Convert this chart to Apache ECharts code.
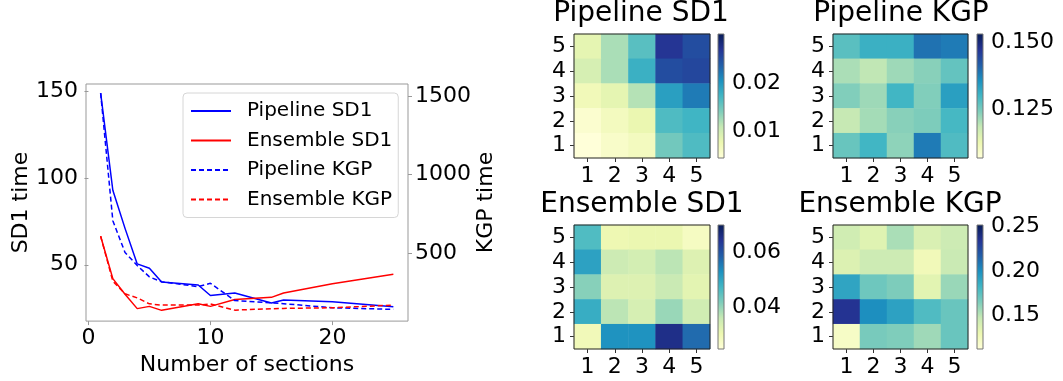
<!DOCTYPE html>
<html><head><meta charset="utf-8">
<script src="https://cdn.jsdelivr.net/npm/echarts@6/dist/echarts.min.js"></script>
<style>html,body{margin:0;padding:0;background:#fff}#c{width:1063px;height:381px}</style>
</head><body><div id="c"></div>
<script>
// ---- line chart data ----
const sections = [1, 2, 3, 4, 5, 6, 9, 10, 12, 15, 16, 20, 25];
const pipelineSD1 = [149, 93, 71, 50.5, 48, 40, 38.3, 32.3, 33.7, 28, 29.7, 28.6, 25.8];
const ensembleSD1 = [66.5, 42, 33, 24.7, 26, 23.7, 27.5, 26, 30, 31.2, 33.7, 39, 44.5];
const pipelineKGP = [1521, 707, 504, 421, 348, 317, 286, 307, 197, 182, 177, 151, 141];
const ensembleKGP = [608, 321, 240, 214, 176, 168, 168, 176, 136, 145, 147, 151, 168];
const xTicks = [0, 10, 20];
const sd1Ticks = [50, 100, 150];
const kgpTicks = [500, 1000, 1500];

// ---- heatmaps (rows listed top = 5 down to bottom = 1) ----
const heatTicks = ['1', '2', '3', '4', '5'];
const hmPipelineSD1 = [
  [0.0083, 0.0122, 0.0161, 0.0270, 0.0251],
  [0.0096, 0.0122, 0.0179, 0.0251, 0.0256],
  [0.0070, 0.0083, 0.0117, 0.0194, 0.0220],
  [0.0052, 0.0065, 0.0078, 0.0166, 0.0174],
  [0.0044, 0.0057, 0.0065, 0.0148, 0.0166]
];
const hmPipelineKGP = [
  [0.1276, 0.1309, 0.1309, 0.1392, 0.1382],
  [0.1207, 0.1189, 0.1217, 0.1235, 0.1267],
  [0.1240, 0.1217, 0.1300, 0.1240, 0.1336],
  [0.1184, 0.1212, 0.1235, 0.1244, 0.1295],
  [0.1263, 0.1300, 0.1230, 0.1382, 0.1286]
];
const hmEnsembleSD1 = [
  [0.0461, 0.0303, 0.0308, 0.0308, 0.0281],
  [0.0507, 0.0353, 0.0344, 0.0371, 0.0330],
  [0.0412, 0.0330, 0.0330, 0.0357, 0.0321],
  [0.0489, 0.0371, 0.0339, 0.0398, 0.0348],
  [0.0294, 0.0529, 0.0529, 0.0656, 0.0574]
];
const hmEnsembleKGP = [
  [0.1434, 0.1365, 0.1544, 0.1392, 0.1447],
  [0.1378, 0.1447, 0.1447, 0.1268, 0.1461],
  [0.1903, 0.1696, 0.1654, 0.1351, 0.1585],
  [0.2344, 0.1999, 0.1917, 0.1779, 0.1710],
  [0.1213, 0.1668, 0.1648, 0.1572, 0.1710]
];
// colour bar ranges and ticks
const cbPipelineSD1 = [0.0044, 0.0303], cbTicksPipelineSD1 = [0.01, 0.02];
const cbPipelineKGP = [0.1069, 0.1530], cbTicksPipelineKGP = [0.125, 0.150];
const cbEnsembleSD1 = [0.0249, 0.0701], cbTicksEnsembleSD1 = [0.04, 0.06];
const cbEnsembleKGP = [0.113, 0.251], cbTicksEnsembleKGP = [0.15, 0.20, 0.25];
const hmTitles = ['Pipeline SD1', 'Pipeline KGP', 'Ensemble SD1', 'Ensemble KGP'];

const YlGnBu = ['#ffffd9', '#edf8b1', '#c7e9b4', '#7fcdbb', '#41b6c4', '#1d91c0', '#225ea8', '#253494', '#081d58'];
const FONT = 'DejaVu Sans';

function toCells(m) {
  const out = [];
  for (let r = 0; r < 5; r++) for (let c = 0; c < 5; c++) out.push([c, 4 - r, m[r][c]]);
  return out;
}
function pairs(xs, ys) { return xs.map((x, i) => [x, ys[i]]); }

const hmData = [hmPipelineSD1, hmPipelineKGP, hmEnsembleSD1, hmEnsembleKGP];
const cbRanges = [cbPipelineSD1, cbPipelineKGP, cbEnsembleSD1, cbEnsembleKGP];
const cbTicks = [cbTicksPipelineSD1, cbTicksPipelineKGP, cbTicksEnsembleSD1, cbTicksEnsembleKGP];
const cbDecimals = [2, 3, 2, 2];

const hmBoxes = [
  {left: 574, top: 34, width: 136, height: 124},
  {left: 833, top: 34, width: 135, height: 124},
  {left: 574, top: 225, width: 136, height: 124},
  {left: 833, top: 225, width: 135, height: 124}
];
const cbBoxes = [
  {left: 718, top: 34, width: 6, height: 124},
  {left: 977, top: 34, width: 6, height: 124},
  {left: 718, top: 225, width: 6, height: 124},
  {left: 977, top: 225, width: 6, height: 124}
];
const titlePos = [{c: 641, t: 0}, {c: 901, t: 0}, {c: 642, t: 191}, {c: 900, t: 191}];

const grids = [{left: 86, top: 84, width: 322, height: 243, show: true, borderColor: '#999', borderWidth: 1, z: 5}];
hmBoxes.forEach(b => grids.push(Object.assign({show: true, borderColor: '#222', borderWidth: 1, z: 5}, b)));
cbBoxes.forEach(b => grids.push(Object.assign({show: true, borderColor: '#777', borderWidth: 1, z: 5}, b)));

const tickLabel = {fontSize: 22, color: '#000', fontFamily: FONT};

const xAxes = [{
  type: 'value', gridIndex: 0, min: -0.2, max: 26.2,
  axisLine: {show: false},
  axisTick: {show: true, length: 4, customValues: xTicks, lineStyle: {color: '#999'}},
  axisLabel: Object.assign({customValues: xTicks, margin: 6, formatter: v => String(v)}, tickLabel),
  splitLine: {show: false},
  name: 'Number of sections', nameLocation: 'middle', nameGap: 29,
  nameTextStyle: {fontSize: 22, color: '#000', fontFamily: FONT}
}];
const yAxes = [{
  type: 'value', gridIndex: 0, min: 17.5, max: 154.3, position: 'left',
  axisLine: {show: false},
  axisTick: {show: true, length: 4, customValues: sd1Ticks, lineStyle: {color: '#999'}},
  axisLabel: Object.assign({customValues: sd1Ticks, margin: 8, formatter: v => String(v)}, tickLabel),
  splitLine: {show: false},
  name: 'SD1 time', nameLocation: 'middle', nameGap: 54,
  nameTextStyle: {fontSize: 22, color: '#000', fontFamily: FONT}
}, {
  type: 'value', gridIndex: 0, min: 66, max: 1579, position: 'right',
  axisLine: {show: false},
  axisTick: {show: true, length: 4, customValues: kgpTicks, lineStyle: {color: '#999'}},
  axisLabel: Object.assign({customValues: kgpTicks, margin: 7, formatter: v => String(v)}, tickLabel),
  splitLine: {show: false},
  name: 'KGP time', nameLocation: 'middle', nameGap: 60,
  nameTextStyle: {fontSize: 22, color: '#000', fontFamily: FONT}
}];
for (let i = 0; i < 4; i++) {
  xAxes.push({
    type: 'category', gridIndex: 1 + i, data: heatTicks,
    axisLine: {show: false},
    axisTick: {show: true, alignWithLabel: true, interval: 0, length: 4, lineStyle: {color: '#333'}},
    axisLabel: Object.assign({margin: 7, interval: 0}, tickLabel),
    splitLine: {show: false}
  });
  yAxes.push({
    type: 'category', gridIndex: 1 + i, data: heatTicks,
    axisLine: {show: false},
    axisTick: {show: true, alignWithLabel: true, interval: 0, length: 4, lineStyle: {color: '#333'}},
    axisLabel: Object.assign({margin: 8, interval: 0}, tickLabel),
    splitLine: {show: false}
  });
}
for (let i = 0; i < 4; i++) {
  xAxes.push({type: 'value', gridIndex: 5 + i, min: 0, max: 1, show: false});
  const d = cbDecimals[i];
  yAxes.push({
    type: 'value', gridIndex: 5 + i, min: cbRanges[i][0], max: cbRanges[i][1], position: 'right',
    axisLine: {show: false},
    axisTick: {show: true, length: 4, customValues: cbTicks[i], lineStyle: {color: '#333'}},
    axisLabel: Object.assign({customValues: cbTicks[i], margin: 8, formatter: v => v.toFixed(d)}, tickLabel),
    splitLine: {show: false}
  });
}

const lineStyleBase = {width: 1.5};
const series = [
  {name: 'Pipeline SD1', type: 'line', xAxisIndex: 0, yAxisIndex: 0, data: pairs(sections, pipelineSD1),
   symbol: 'none', color: '#0000ff', lineStyle: Object.assign({color: '#0000ff', type: 'solid'}, lineStyleBase)},
  {name: 'Ensemble SD1', type: 'line', xAxisIndex: 0, yAxisIndex: 0, data: pairs(sections, ensembleSD1),
   symbol: 'none', color: '#ff0000', lineStyle: Object.assign({color: '#ff0000', type: 'solid'}, lineStyleBase)},
  {name: 'Pipeline KGP', type: 'line', xAxisIndex: 0, yAxisIndex: 1, data: pairs(sections, pipelineKGP),
   symbol: 'none', color: '#0000ff', lineStyle: Object.assign({color: '#0000ff', type: [5, 3]}, lineStyleBase)},
  {name: 'Ensemble KGP', type: 'line', xAxisIndex: 0, yAxisIndex: 1, data: pairs(sections, ensembleKGP),
   symbol: 'none', color: '#ff0000', lineStyle: Object.assign({color: '#ff0000', type: [5, 3]}, lineStyleBase)}
];
for (let i = 0; i < 4; i++) {
  series.push({
    type: 'heatmap', xAxisIndex: 1 + i, yAxisIndex: 2 + i, data: toCells(hmData[i]),
    emphasis: {disabled: true}, itemStyle: {borderWidth: 0}
  });
}
const stops = YlGnBu.slice().reverse().map((c, k) => ({offset: k / (YlGnBu.length - 1), color: c}));
for (let i = 0; i < 4; i++) {
  series.push({
    type: 'custom', xAxisIndex: 5 + i, yAxisIndex: 6 + i, clip: false, silent: true,
    data: [[0, cbRanges[i][0], cbRanges[i][1]]],
    encode: {x: 0, y: [1, 2]},
    renderItem: (params, api) => {
      const p0 = api.coord([0, api.value(2)]);
      const p1 = api.coord([1, api.value(1)]);
      return {type: 'rect', shape: {x: p0[0], y: p0[1], width: p1[0] - p0[0], height: p1[1] - p0[1]},
        style: {fill: new echarts.graphic.LinearGradient(0, 0, 0, 1, stops)}};
    }
  });
}

const visualMaps = [];
for (let i = 0; i < 4; i++) {
  visualMaps.push({type: 'continuous', show: false, seriesIndex: 4 + i, dimension: 2,
    min: cbRanges[i][0], max: cbRanges[i][1], inRange: {color: YlGnBu}});
}

const titles = hmTitles.map((t, i) => ({
  text: t, left: titlePos[i].c, top: titlePos[i].t, textAlign: 'center', padding: 0,
  textStyle: {fontSize: 28, fontWeight: 'normal', color: '#000', fontFamily: FONT}
}));

const option = {
  animation: false,
  backgroundColor: '#fff',
  textStyle: {fontFamily: FONT},
  title: titles,
  legend: {
    data: ['Pipeline SD1', 'Ensemble SD1', 'Pipeline KGP', 'Ensemble KGP'],
    orient: 'vertical', left: 183, top: 93,
    padding: [8, 6, 8, 7], itemWidth: 40, itemHeight: 14, itemGap: 9.5,
    itemStyle: {opacity: 0},
    borderColor: '#d6d6d6', borderWidth: 1, borderRadius: 4, backgroundColor: 'rgba(255,255,255,0.8)',
    textStyle: {fontSize: 20, color: '#000', fontFamily: FONT, padding: [0, 0, 0, 11]}
  },
  grid: grids,
  xAxis: xAxes,
  yAxis: yAxes,
  visualMap: visualMaps,
  series: series
};

const chart = echarts.init(document.getElementById('c'), null, {renderer: 'canvas'});
chart.setOption(option);
</script>
</body></html>
